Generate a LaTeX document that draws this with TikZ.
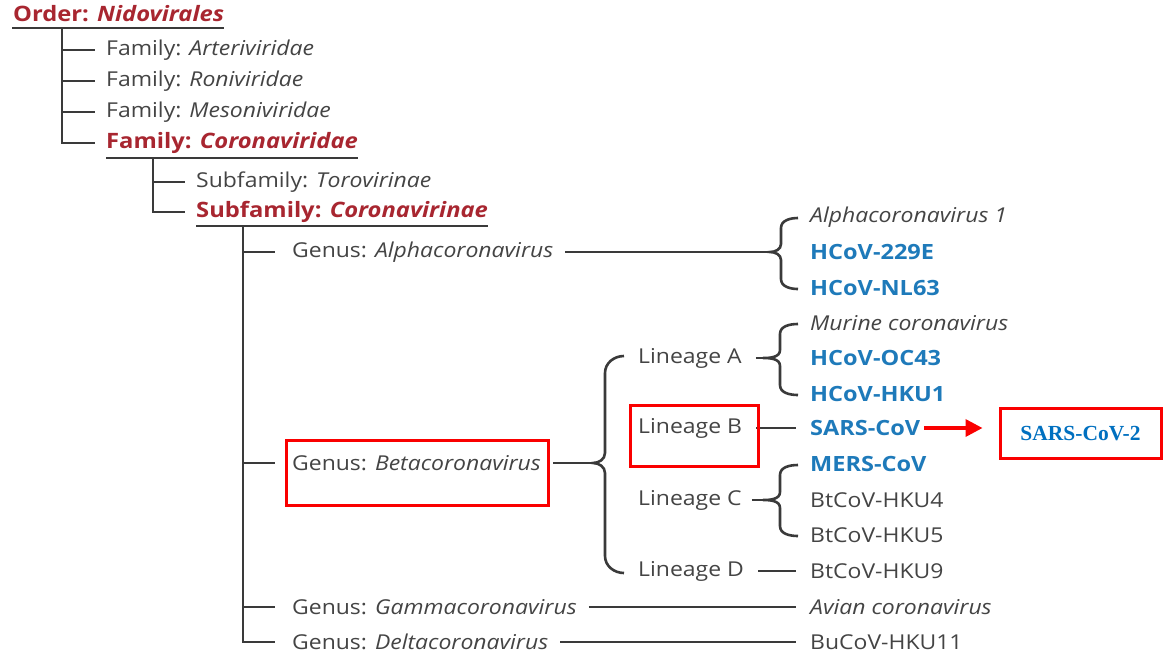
\documentclass[tikz,border=0pt]{standalone}
\usepackage{fontspec}
\setmainfont[FakeStretch=1.12]{Open Sans}
\newfontfamily\serifbf{Liberation Serif}
\usetikzlibrary{arrows.meta}
\definecolor{hred}{RGB}{168,38,48}
\definecolor{hblue}{RGB}{30,122,186}
\definecolor{tgray}{RGB}{68,68,68}
\definecolor{lgray}{RGB}{58,58,58}
\definecolor{bred}{RGB}{250,0,0}
\definecolor{sblue}{RGB}{0,112,192}
\newcommand{\cbrace}[6]{% tip x, spine x, end x, top y, mid y, bottom y
  \draw[conn] (#3,#4) to[out=180,in=90] (#2,{#4+10}) -- (#2,{#5-8})
    to[out=-90,in=0] (#1,#5) to[out=0,in=90] (#2,{#5+8}) -- (#2,{#6-10})
    to[out=-90,in=180] (#3,#6);}
\tikzset{
  lbl/.style={anchor=west, inner sep=0pt, font=\fontsize{20.5}{22}\selectfont, text=tgray},
  head/.style={lbl, font=\fontsize{21.2}{22}\selectfont\bfseries, text=hred},
  virus/.style={lbl, font=\fontsize{21}{22}\selectfont\bfseries, text=hblue},
  conn/.style={draw=lgray, line width=2.6pt},
  uline/.style={draw=lgray, line width=2.4pt},
  hibox/.style={draw=bred, line width=3pt},
}
\begin{document}
\begin{tikzpicture}[x=1pt,y=-1pt]
\path[use as bounding box, fill=white] (0,0) rectangle (1164,657);

% headings
\node[head] (order) at (13,14) {Order: \textit{Nidovirales}};
\draw[uline] (12,28) -- (order.east |- 0,28);
\node[lbl] (fA) at (106,50) {Family: \textit{Arteriviridae}};
\node[lbl] (fR) at (106,81) {Family: \textit{Roniviridae}};
\node[lbl] (fM) at (106,112) {Family: \textit{Mesoniviridae}};
\node[head] (fC) at (106,143) {Family: \textit{Coronaviridae}};
\draw[uline] (106,158) -- (fC.east |- 0,158);
\coordinate (o1) at (62,28);
\draw[conn] (o1) |- ([xshift=-11]fC.west);
\foreach \n in {fA,fR,fM} \draw[conn] (\n.west -| o1) -- ([xshift=-11]\n.west);

\node[lbl] (sT) at (196,182) {Subfamily: \textit{Torovirinae}};
\node[head] (sC) at (196,212) {Subfamily: \textit{Coronavirinae}};
\draw[uline] (196,226) -- (sC.east |- 0,226);
\coordinate (f1) at (153,158);
\draw[conn] (f1) |- ([xshift=-11]sC.west);
\draw[conn] (sT.west -| f1) -- ([xshift=-11]sT.west);

% genera
\node[lbl] (gA) at (292,252) {Genus: \textit{Alphacoronavirus}};
\node[lbl] (gB) at (292,463) {Genus: \textit{Betacoronavirus}};
\node[lbl] (gG) at (292,607) {Genus: \textit{Gammacoronavirus}};
\node[lbl] (gD) at (292,642) {Genus: \textit{Deltacoronavirus}};
\coordinate (s1) at (243,226);
\draw[conn] (s1) |- ([xshift=-17]gD.west);
\foreach \n in {gA,gB,gG} \draw[conn] (\n.west -| s1) -- ([xshift=-17]\n.west);

% alpha species
\node[lbl] (a1) at (810,217) {\textit{Alphacoronavirus 1}};
\node[virus] (a2) at (810,252) {HCoV-229E};
\node[virus] (a3) at (810,288) {HCoV-NL63};
\coordinate (abr) at (770,252);
\draw[conn] ([xshift=12]gA.east) -- (abr);
\cbrace{770}{781}{798}{218}{252}{289}

% beta lineages
\node[lbl] (lA) at (638,358) {Lineage A};
\node[lbl] (lB) at (638,428) {Lineage B};
\node[lbl] (lC) at (638,500) {Lineage C};
\node[lbl] (lD) at (638,571) {Lineage D};
\coordinate (bbr) at (593,463);
\draw[conn] ([xshift=12]gB.east) -- (bbr);
\draw[conn] (624,356) to[out=180,in=90] (605,373) -- (605,453)
  to[out=-90,in=0] (593,463) to[out=0,in=90] (605,473) -- (605,556)
  to[out=-90,in=180] (624,573);

% lineage A
\node[lbl] (m1) at (810,323) {\textit{Murine coronavirus}};
\node[virus] (m2) at (810,358) {HCoV-OC43};
\node[virus] (m3) at (810,394) {HCoV-HKU1};
\draw[conn] ([xshift=14]lA.east) -- (763,358);
\cbrace{763}{780}{798}{324}{358}{395}

% lineage B
\node[virus] (sars) at (810,428) {SARS-CoV};
\draw[conn] ([xshift=14]lB.east) -- ([xshift=-14]sars.west);

% lineage C
\node[virus] (c1) at (810,464) {MERS-CoV};
\node[lbl] (c2) at (810,500) {BtCoV-HKU4};
\node[lbl] (c3) at (810,535) {BtCoV-HKU5};
\draw[conn] ([xshift=10]lC.east) -- (763,500);
\cbrace{763}{780}{798}{465}{500}{536}

% lineage D
\node[lbl] (d1) at (810,571) {BtCoV-HKU9};
\draw[conn] ([xshift=14]lD.east) -- ([xshift=-14]d1.west);

% gamma, delta
\node[lbl] (g1) at (810,607) {\textit{Avian coronavirus}};
\draw[conn] ([xshift=12]gG.east) -- ([xshift=-14]g1.west);
\node[lbl] (dl1) at (810,642) {BuCoV-HKU11};
\draw[conn] ([xshift=12]gD.east) -- ([xshift=-14]dl1.west);

% highlights
\draw[hibox] (286,440) rectangle (548,505);
\draw[hibox] (630,405) rectangle (758,466);
\node[hibox, minimum width=161pt, minimum height=50pt, inner sep=0pt,
      font=\serifbf\bfseries\fontsize{21.5}{22}\selectfont, text=sblue] (sars2) at (1080.5,433.5) {SARS-CoV-2};
\draw[draw=bred, line width=3.5pt, -{Triangle[length=17pt,width=17pt]}, shorten <=4pt, shorten >=16pt] (sars.east) -- (sars2.west |- sars.east);
\end{tikzpicture}
\end{document}
